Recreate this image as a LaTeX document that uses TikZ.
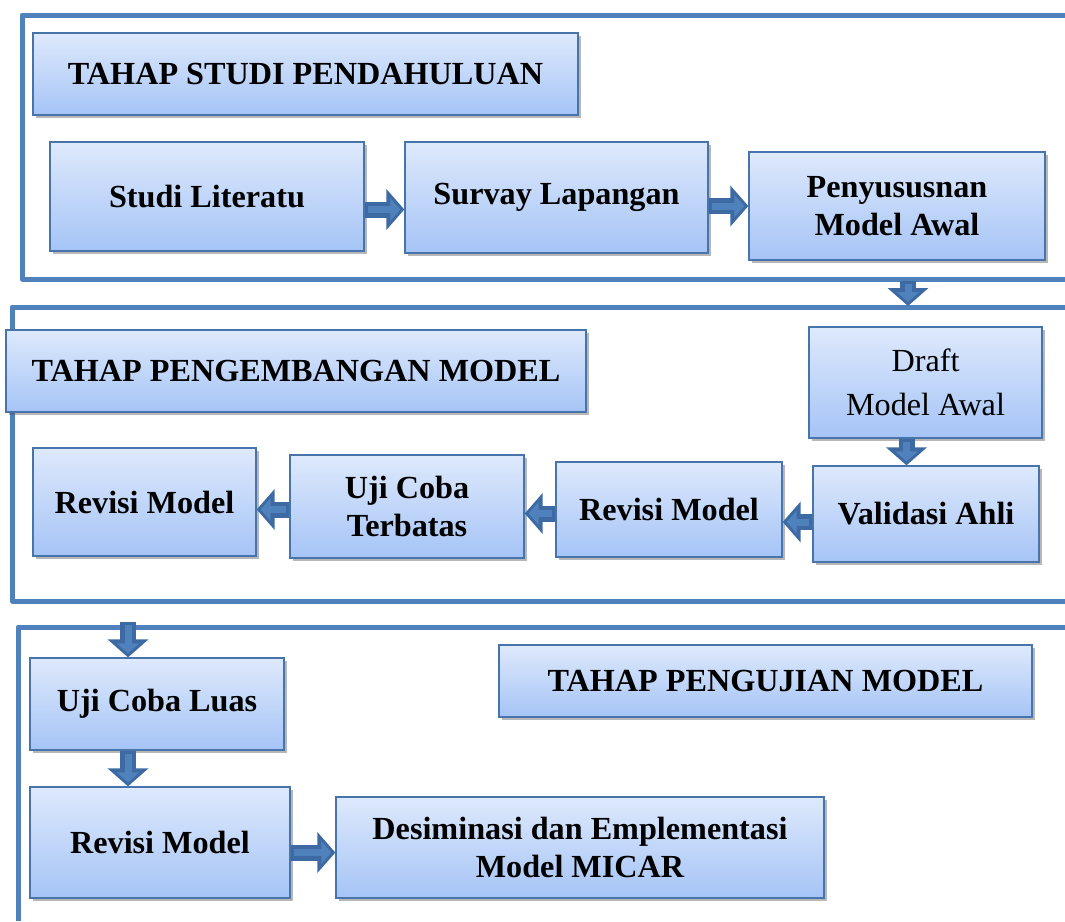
\documentclass[tikz,border=0pt]{standalone}
\usepackage{fontspec}
\setmainfont{Liberation Serif}
\usetikzlibrary{shadows,arrows.meta}

\definecolor{frameblue}{HTML}{4F81BD}
\definecolor{arrowblue}{HTML}{3E6AA3}
\definecolor{boxtop}{HTML}{DEE9FC}
\definecolor{boxbot}{HTML}{A5C4F6}

\begin{document}
\begin{tikzpicture}[
    x=1pt, y=-1pt,
    every node/.style={font=\fontsize{32.2}{37.5}\selectfont\bfseries},
    stage/.style={draw=frameblue!90!black, line width=1.3pt, top color=boxtop, bottom color=boxbot,
      align=center, inner sep=0pt,
      drop shadow={shadow xshift=3pt, shadow yshift=-3pt, opacity=0.4, fill=black!70}},
    plain/.style={font=\fontsize{32.2}{44}\selectfont},
    frame/.style={draw=frameblue, line width=5pt, line join=round},
    blockarrow/.style={draw=arrowblue, line width=16pt, -{Triangle[length=18pt, width=40pt]},
      postaction={draw=frameblue, line width=7pt, -{Triangle[length=10pt, width=22pt]}, shorten >=4pt, shorten <=3pt}}
  ]
  \useasboundingbox (0,0) rectangle (1065,921);

  % three stage frames, open on the right
  \draw[frame] (1065,15) -| (22,279) -- (1065,279);
  \draw[frame] (1065,307) -| (12,601) -- (1065,601);
  \draw[frame] (1065,627) -| (18,921);

  % Tahap studi pendahuluan
  \node[stage, minimum width=545pt, minimum height=82pt] (tsp) at (305.5,74) {TAHAP STUDI PENDAHULUAN};
  \node[stage, minimum width=314pt, minimum height=109pt] (studi) at (207,196.5) {Studi Literatu};
  \node[stage, minimum width=303pt, minimum height=111pt] (survay) at (556.5,197.5) {Survay Lapangan};
  \node[stage, minimum width=296pt, minimum height=108pt] (penyus) at (897,206) {Penyususnan\\Model Awal};

  % Tahap pengembangan model
  \node[stage, minimum width=580pt, minimum height=82pt] (tpm) at (296,371) {TAHAP PENGEMBANGAN MODEL};
  \node[stage, plain, minimum width=233pt, minimum height=111pt] (draft) at (925.5,382.5) {Draft\\Model Awal};
  \node[stage, minimum width=226pt, minimum height=96pt] (valid) at (926,514) {Validasi Ahli};
  \node[stage, minimum width=226pt, minimum height=95pt] (revisiB) at (669,509.5) {Revisi Model};
  \node[stage, minimum width=234pt, minimum height=103pt] (ujiT) at (407,506.5) {Uji Coba\\Terbatas};
  \node[stage, minimum width=223pt, minimum height=108pt] (revisiA) at (144.5,502) {Revisi Model};

  % Tahap pengujian model
  \node[stage, minimum width=533pt, minimum height=72pt] (tpu) at (765.5,681) {TAHAP PENGUJIAN MODEL};
  \node[stage, minimum width=254pt, minimum height=92pt] (luas) at (157,704) {Uji Coba Luas};
  \node[stage, minimum width=260pt, minimum height=111pt] (revisiC) at (160,842.5) {Revisi Model};
  \node[stage, minimum width=488pt, minimum height=101pt] (desim) at (580,847.5) {Desiminasi dan Emplementasi\\Model MICAR};

  \coordinate (f1b) at (908,281);
  \coordinate (f2t) at (908,306);
  \coordinate (f3t) at (128,622);

  % Arrows
  \draw[blockarrow] ([yshift=-13pt]studi.east) -- ([yshift=-13pt]studi.east -| survay.west);
  \draw[blockarrow] (survay.east |- penyus.west) -- (penyus.west);
  \draw[blockarrow] (f1b) -- (f2t);
  \draw[blockarrow] ([xshift=-19pt]draft.south) -- ([xshift=-19pt]draft.south |- valid.north);
  \draw[blockarrow] ([yshift=-8pt]valid.west) -- ([yshift=-8pt]valid.west -| revisiB.east);
  \draw[blockarrow] ([yshift=-4pt]revisiB.west) -- ([yshift=-4pt]revisiB.west -| ujiT.east);
  \draw[blockarrow] ([yshift=-3pt]ujiT.west) -- ([yshift=-3pt]ujiT.west -| revisiA.east);
  \draw[blockarrow] (f3t) -- (f3t |- luas.north);
  \draw[blockarrow] (f3t |- luas.south) -- (f3t |- revisiC.north);
  \draw[blockarrow] ([yshift=-5pt]desim.west -| revisiC.east) -- ([yshift=-5pt]desim.west);
\end{tikzpicture}
\end{document}
